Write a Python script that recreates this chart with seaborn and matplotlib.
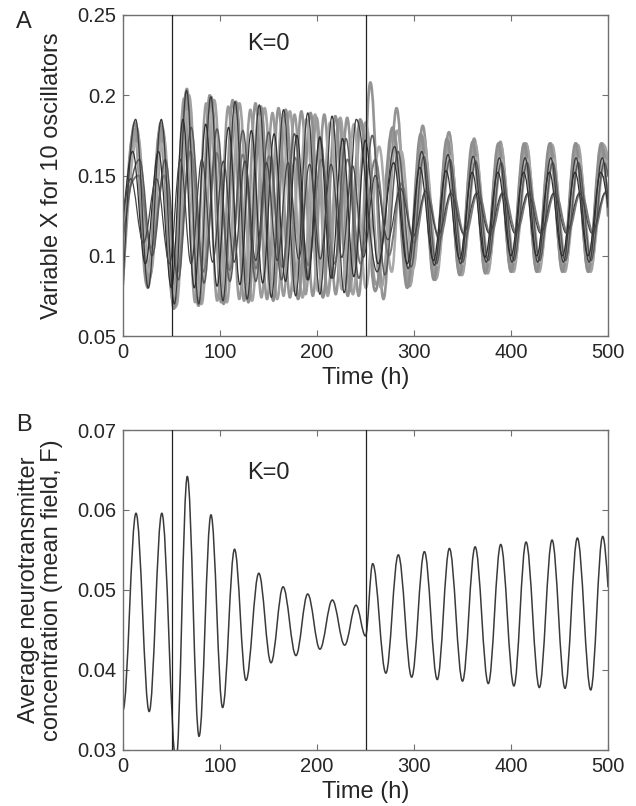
import matplotlib
matplotlib.use('Agg')
import matplotlib.pyplot as plt
from matplotlib.path import Path
from matplotlib.patches import PathPatch
import seaborn as sns

# ---------------- 数据：极值点（时间 h, 数值） ----------------
# 图A：10个振子的变量X（峰/谷交替，首尾两点不是极值）
OSC1_T = [0, 13, 26, 39.5, 53, 65.5, 78, 90.5, 103, 115.5, 128, 140.5, 153, 165.5, 178, 190.5, 203, 215.5,
          228, 240.5, 262, 280, 294, 308, 321, 335, 348, 361, 374.5, 388, 401, 414.5, 427.5, 441, 454, 467,
          480.5, 494, 500]
OSC1_X = [0.080, 0.185, 0.080, 0.185, 0.070, 0.203, 0.070, 0.199, 0.072, 0.196, 0.073, 0.194, 0.074, 0.191,
          0.075, 0.189, 0.076, 0.187, 0.077, 0.185, 0.090, 0.168, 0.092, 0.165, 0.094, 0.163, 0.095, 0.162,
          0.096, 0.161, 0.096, 0.161, 0.096, 0.161, 0.096, 0.161, 0.096, 0.161, 0.135]

OSC2_T = [0, 14, 27, 40.5, 54, 65.8, 77.6, 89.4, 101.2, 113, 124.8, 136.6, 148.5, 160.3, 172.1, 183.9, 195.7,
          207.5, 219.3, 231.1, 243, 255, 268.5, 282, 295.5, 309, 322, 336, 349, 362, 375, 389, 401, 415.5,
          428, 441, 454, 467, 480, 494, 500]
OSC2_X = [0.090, 0.180, 0.085, 0.180, 0.068, 0.204, 0.069, 0.200, 0.071, 0.197, 0.072, 0.195, 0.073, 0.192,
          0.074, 0.190, 0.075, 0.188, 0.076, 0.186, 0.075, 0.208, 0.073, 0.192, 0.081, 0.181, 0.085, 0.177,
          0.088, 0.173, 0.0895, 0.171, 0.0905, 0.170, 0.091, 0.170, 0.091, 0.170, 0.091, 0.170, 0.150]

OSC3_T = [0, 11.5, 24.5, 38, 51.5, 62.9, 74.3, 85.7, 97.1, 108.5, 119.9, 131.3, 142.7, 154.1, 165.5, 176.9,
          188.3, 199.7, 211.1, 222.5, 233.9, 245.3, 261, 279, 294, 307.5, 320.5, 334, 347, 360.5, 373.5, 387,
          400, 413.5, 426.5, 440, 453, 466.5, 479.5, 493, 500]
OSC3_X = [0.100, 0.178, 0.082, 0.178, 0.072, 0.198, 0.071, 0.195, 0.072, 0.193, 0.073, 0.191, 0.074, 0.189,
          0.075, 0.188, 0.076, 0.186, 0.077, 0.185, 0.078, 0.184, 0.082, 0.178, 0.083, 0.172, 0.087, 0.169,
          0.089, 0.167, 0.090, 0.166, 0.091, 0.166, 0.091, 0.166, 0.091, 0.166, 0.091, 0.166, 0.130]

OSC4_T = [0, 15, 28, 41.5, 55, 68, 81, 94, 107, 120, 133, 146, 159, 172, 185, 198, 211, 224, 237, 250, 266,
          283, 296, 310, 323, 336.5, 349.5, 363, 376, 389.5, 402.5, 416, 429, 442.5, 455.5, 469, 482, 495.5, 500]
OSC4_X = [0.085, 0.175, 0.088, 0.175, 0.069, 0.200, 0.070, 0.197, 0.071, 0.195, 0.072, 0.192, 0.073, 0.190,
          0.074, 0.188, 0.075, 0.186, 0.076, 0.183, 0.080, 0.178, 0.082, 0.174, 0.086, 0.171, 0.088, 0.170,
          0.089, 0.169, 0.090, 0.169, 0.090, 0.169, 0.090, 0.169, 0.090, 0.169, 0.160]

OSC5_T = [0, 10, 23, 36.5, 50, 61.8, 73.5, 85.3, 97, 108.8, 120.5, 132.3, 144, 155.8, 167.5, 179.3, 191,
          202.8, 214.5, 226.3, 238, 249.8, 263, 279, 293, 306, 320, 333, 347, 360, 373, 386.5, 400, 413,
          426.5, 439.5, 453, 466, 479.5, 492.5, 500]
OSC5_X = [0.120, 0.165, 0.095, 0.165, 0.080, 0.185, 0.080, 0.182, 0.081, 0.180, 0.082, 0.178, 0.083, 0.176,
          0.084, 0.175, 0.085, 0.174, 0.086, 0.173, 0.087, 0.172, 0.095, 0.158, 0.095, 0.155, 0.097, 0.153,
          0.098, 0.152, 0.099, 0.152, 0.100, 0.152, 0.100, 0.152, 0.100, 0.152, 0.100, 0.152, 0.130]

OSC6_T = [0, 16, 29, 42.5, 56, 69.5, 83, 96.5, 110, 123.5, 137, 150.5, 164, 177.5, 191, 204.5, 218, 231.5,
          245, 260, 274, 287, 300, 313, 326, 339.5, 352.5, 366, 379, 392.5, 405.5, 419, 432, 445.5, 458.5,
          472, 485, 498, 500]
OSC6_X = [0.130, 0.150, 0.105, 0.150, 0.090, 0.165, 0.090, 0.164, 0.091, 0.163, 0.092, 0.162, 0.093, 0.161,
          0.094, 0.160, 0.095, 0.160, 0.095, 0.160, 0.100, 0.145, 0.108, 0.142, 0.110, 0.141, 0.112, 0.140,
          0.113, 0.140, 0.114, 0.140, 0.114, 0.140, 0.114, 0.140, 0.114, 0.140, 0.139]

OSC7_T = [0, 13.5, 26.5, 40, 53.5, 65.8, 78.1, 90.4, 102.7, 115, 127.3, 139.6, 151.9, 164.2, 176.5, 188.8,
          201.1, 213.4, 225.7, 238, 250.3, 264, 277, 287, 299, 311.5, 324, 337.5, 350.5, 364, 377, 390.5,
          403.5, 417, 430, 443.5, 456.5, 470, 483, 496.5, 500]
OSC7_X = [0.095, 0.170, 0.090, 0.170, 0.075, 0.190, 0.075, 0.189, 0.076, 0.188, 0.076, 0.187, 0.077, 0.186,
          0.078, 0.185, 0.078, 0.183, 0.079, 0.182, 0.080, 0.168, 0.090, 0.165, 0.092, 0.163, 0.094, 0.162,
          0.095, 0.161, 0.096, 0.160, 0.096, 0.160, 0.096, 0.160, 0.096, 0.160, 0.096, 0.160, 0.150]

OSC8_T = [0, 12.5, 25.5, 39, 52.5, 65.3, 78.1, 90.9, 103.7, 116.5, 129.3, 142.1, 154.9, 167.7, 180.5, 193.3,
          206.1, 218.9, 231.7, 244.5, 260, 278, 293, 307, 320.5, 334, 347, 360.5, 373.5, 387, 400, 413.5,
          426.5, 440, 453, 466.5, 479.5, 493, 500]
OSC8_X = [0.082, 0.183, 0.080, 0.183, 0.067, 0.202, 0.069, 0.199, 0.070, 0.196, 0.071, 0.193, 0.072, 0.191,
          0.073, 0.189, 0.074, 0.187, 0.075, 0.185, 0.078, 0.180, 0.080, 0.176, 0.085, 0.173, 0.088, 0.171,
          0.089, 0.170, 0.090, 0.170, 0.090, 0.170, 0.090, 0.170, 0.090, 0.170, 0.125]

OSC9_T = [0, 8, 21, 34.5, 48, 59.1, 70.2, 81.3, 92.4, 103.5, 114.6, 125.7, 136.8, 147.9, 159, 170.1, 181.2,
          192.3, 203.4, 214.5, 225.6, 236.7, 247.8, 260, 273, 286, 299, 312, 325, 338, 351, 364.5, 377.5, 391,
          404, 417.5, 430.5, 444, 457, 470.5, 483.5, 497, 500]
OSC9_X = [0.125, 0.148, 0.108, 0.148, 0.095, 0.160, 0.095, 0.160, 0.096, 0.159, 0.096, 0.159, 0.097, 0.158,
          0.097, 0.158, 0.098, 0.157, 0.098, 0.157, 0.099, 0.156, 0.099, 0.150, 0.110, 0.142, 0.112, 0.140,
          0.113, 0.139, 0.114, 0.139, 0.114, 0.139, 0.114, 0.139, 0.114, 0.139, 0.114, 0.139, 0.114, 0.139,
          0.138]

OSC10_T = [0, 17, 30, 43.5, 57, 70.3, 83.6, 96.9, 110.2, 123.5, 136.8, 150.1, 163.4, 176.7, 190, 203.3,
           216.6, 229.9, 243.2, 257, 270, 283.5, 297, 310, 323, 337, 350, 363.5, 376.5, 390, 403, 416.5,
           429.5, 443, 456, 469.5, 482.5, 496, 500]
OSC10_X = [0.110, 0.160, 0.100, 0.160, 0.085, 0.180, 0.083, 0.179, 0.084, 0.178, 0.084, 0.177, 0.085, 0.176,
           0.085, 0.174, 0.086, 0.173, 0.086, 0.175, 0.088, 0.165, 0.093, 0.162, 0.095, 0.160, 0.096, 0.159,
           0.097, 0.158, 0.097, 0.158, 0.097, 0.158, 0.097, 0.158, 0.097, 0.158, 0.150]

# 图B：平均神经递质浓度（平均场 F）的峰/谷（t=0 处即为谷）
MEAN_T = [0, 13.4, 27, 40, 54.7, 66.3, 78.4, 90.7, 102.7, 115, 126.8, 140, 152.6, 165, 178.3, 190.4, 203,
          215.8, 228.5, 240.2, 250, 257.4, 271, 283.8, 297.6, 310.7, 324, 336.5, 350, 363, 376.6, 389.4, 403,
          415.5, 429.2, 442.3, 455.7, 468.4, 482.2, 494.5, 500]
MEAN_F = [0.035, 0.0596, 0.0348, 0.0596, 0.0285, 0.0642, 0.0317, 0.0594, 0.0353, 0.0551, 0.0387, 0.0521,
          0.0409, 0.0504, 0.0418, 0.0495, 0.0426, 0.04875, 0.0431, 0.0481, 0.04425, 0.0533, 0.0396, 0.0544,
          0.0391, 0.0548, 0.0388, 0.0552, 0.0386, 0.0554, 0.0383, 0.0557, 0.0380, 0.0560, 0.0378, 0.05625,
          0.0377, 0.0565, 0.0375, 0.0567, 0.0504]

# 耦合切换时刻
SWITCH_TIMES = [50, 250]

TIME_TICKS = [0, 100, 200, 300, 400, 500]
A_YTICKS = [0.05, 0.1, 0.15, 0.2, 0.25]
A_YLABELS = ['0.05', '0.1', '0.15', '0.2', '0.25']
B_YTICKS = [0.03, 0.04, 0.05, 0.06, 0.07]
B_YLABELS = ['0.03', '0.04', '0.05', '0.06', '0.07']

# 振子的线条样式（先画浅色粗线，再画深色细线）
OSC_T = [OSC2_T, OSC4_T, OSC3_T, OSC8_T, OSC7_T, OSC6_T, OSC10_T, OSC1_T, OSC5_T, OSC9_T]
OSC_X = [OSC2_X, OSC4_X, OSC3_X, OSC8_X, OSC7_X, OSC6_X, OSC10_X, OSC1_X, OSC5_X, OSC9_X]
OSC_COLORS = ['#949494', '#a2a2a2', '#9a9a9a', '#8e8e8e', '#aaaaaa', '#7a7a7a', '#5a5a5a',
              '#3a3a3a', '#2e2e2e', '#444444']
OSC_WIDTHS = [1.9, 1.9, 1.8, 1.9, 1.8, 1.4, 1.1, 0.9, 0.9, 0.9]

SPINE_COLOR = '#707070'
SMOOTH_K = 0.364  # 曲线控制点比例，使峰谷之间呈正弦状过渡


def smooth_curve(ax, ts, vs, color, lw, flat_start=False):
    # 用三次贝塞尔曲线连接相邻极值点（极值处切线水平），交给matplotlib在数据坐标中绘制
    verts = [(ts[0], vs[0])]
    codes = [Path.MOVETO]
    last = len(ts) - 2
    for i in range(len(ts) - 1):
        t1, v1, t2, v2 = ts[i], vs[i], ts[i + 1], vs[i + 1]
        dt = t2 - t1
        if i == 0 and not flat_start:
            c1 = (t1 + dt / 3, v1 + 0.52 * (v2 - v1))
        else:
            c1 = (t1 + SMOOTH_K * dt, v1)
        if i == last:
            c2 = (t2 - dt / 3, v2 - 0.52 * (v2 - v1))
        else:
            c2 = (t2 - SMOOTH_K * dt, v2)
        verts += [c1, c2, (t2, v2)]
        codes += [Path.CURVE4] * 3
    patch = PathPatch(Path(verts, codes), facecolor='none', edgecolor=color, linewidth=lw,
                      capstyle='round', joinstyle='round')
    ax.add_patch(patch)


def style_axes(ax, yticks, ylabels, ylim):
    ax.set_xlim(0, 500)
    ax.set_ylim(*ylim)
    ax.set_xticks(TIME_TICKS)
    ax.set_xticklabels([str(t) for t in TIME_TICKS])
    ax.set_yticks(yticks)
    ax.set_yticklabels(ylabels)
    ax.tick_params(direction='in', top=True, right=True, length=4, width=0.8,
                   color=SPINE_COLOR, labelsize=14.5, pad=5)
    sns.despine(ax=ax, top=False, right=False)
    for sp in ax.spines.values():
        sp.set_color(SPINE_COLOR)
        sp.set_linewidth(1.0)
    # 切换时刻的竖线
    for t in SWITCH_TIMES:
        ax.axvline(t, color='#222222', linewidth=0.9, zorder=5)
    ax.set_xlabel('Time (h)', fontsize=17)
    ax.xaxis.set_label_coords(0.5, -0.098)


sns.set_style('ticks')
plt.rcParams['font.family'] = ['Liberation Sans', 'DejaVu Sans']

fig = plt.figure(figsize=(6.36, 8.06), dpi=100)
ax_a = fig.add_axes([0.1934, 0.5831, 0.7626, 0.3983])
ax_b = fig.add_axes([0.1934, 0.0695, 0.7626, 0.3970])

# 图A
for t, x, c, lw in zip(OSC_T, OSC_X, OSC_COLORS, OSC_WIDTHS):
    assert len(t) == len(x)
    smooth_curve(ax_a, t, x, c, lw)
style_axes(ax_a, A_YTICKS, A_YLABELS, (0.05, 0.25))
ax_a.set_ylabel('Variable X for 10 oscillators', fontsize=17)
ax_a.yaxis.set_label_coords(-0.124, 0.5)
ax_a.text(150, 0.232, 'K=0', fontsize=17, ha='center', va='center')

# 图B
assert len(MEAN_T) == len(MEAN_F)
smooth_curve(ax_b, MEAN_T, MEAN_F, '#3a3a3a', 1.1, flat_start=True)
style_axes(ax_b, B_YTICKS, B_YLABELS, (0.03, 0.07))
ax_b.set_ylabel('Average neurotransmitter\nconcentration (mean field, F)', fontsize=17, linespacing=1.05)
ax_b.yaxis.set_label_coords(-0.124, 0.5)
ax_b.text(150, 0.0646, 'K=0', fontsize=17, ha='center', va='center')

# 面板字母
fig.text(24 / 636, 1 - 22 / 806, 'A', fontsize=17, ha='center', va='center')
fig.text(24 / 636, 1 - 425 / 806, 'B', fontsize=17, ha='center', va='center')

fig.savefig('out.png', dpi=100)
plt.close(fig)
